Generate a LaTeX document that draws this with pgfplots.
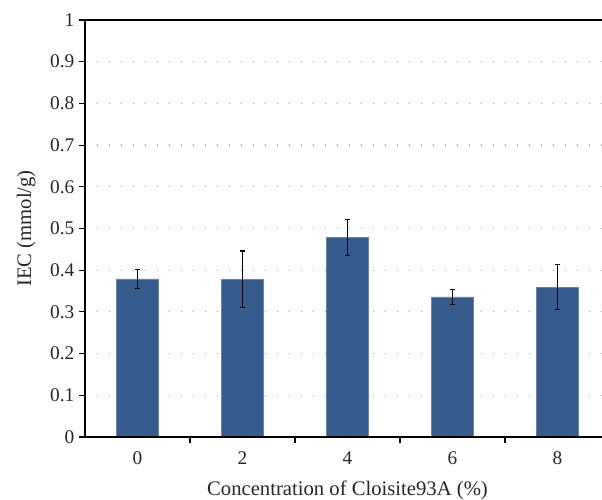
\documentclass[border=0pt]{standalone}
\usepackage{pgfplots}
\pgfplotsset{compat=1.18}
\usepackage{fontspec}
\setmainfont{Liberation Serif}
\definecolor{barblue}{RGB}{53,92,140}
\begin{document}
\begin{tikzpicture}
\begin{axis}[
  at={(63.75pt,46.5pt)}, anchor=south west,
  scale only axis, width=393.75pt, height=312.75pt,
  xmin=-0.5, xmax=4.5, ymin=0, ymax=1,
  xtick={0,1,2,3,4}, xticklabels={0,2,4,6,8},
  minor xtick={0.5,1.5,2.5,3.5},
  ytick={0,0.1,...,1},
  yticklabels={0,0.1,0.2,0.3,0.4,0.5,0.6,0.7,0.8,0.9,1},
  xtick pos=bottom, ytick pos=left,
  tick align=outside,
  major tick length=4.5pt, minor tick length=4.5pt,
  major x tick style={draw=none},
  tick style={black, line width=0.8pt},
  axis line style={black, line width=1.1pt},
  set layers=axis on top,
  ymajorgrids,
  major grid style={/pgfplots/on layer=axis background, draw=gray!70, line width=0.9pt, dash pattern=on 0.9pt off 8.1pt},
  /pgf/number format/assume math mode=true,
  ticklabel style={font=\fontsize{14.5}{16}\selectfont, text=black!85},
  xticklabel style={yshift=-3pt},
  label style={font=\fontsize{15.5}{17}\selectfont, text=black!85},
  xlabel={Concentration of Cloisite93A (\%)},
  ylabel={IEC (mmol/g)},
  xlabel style={yshift=-5.5pt},
  ylabel style={yshift=4pt},
]
\addplot[ybar, bar width=31.2pt, fill=barblue, draw=barblue!75!white, line width=0.4pt,
  error bars/.cd, y dir=both, y explicit,
  error bar style={black, line width=1pt},
  error mark options={black, line width=1pt, rotate=90, mark size=2.2pt}]
coordinates {
  (0,0.379) +- (0,0.023)
  (1,0.378) +- (0,0.068)
  (2,0.479) +- (0,0.043)
  (3,0.336) +- (0,0.018)
  (4,0.359) +- (0,0.054)
};
\end{axis}
\pgfresetboundingbox
\useasboundingbox (0,0) rectangle (451.5pt,374.25pt);
\end{tikzpicture}
\end{document}
